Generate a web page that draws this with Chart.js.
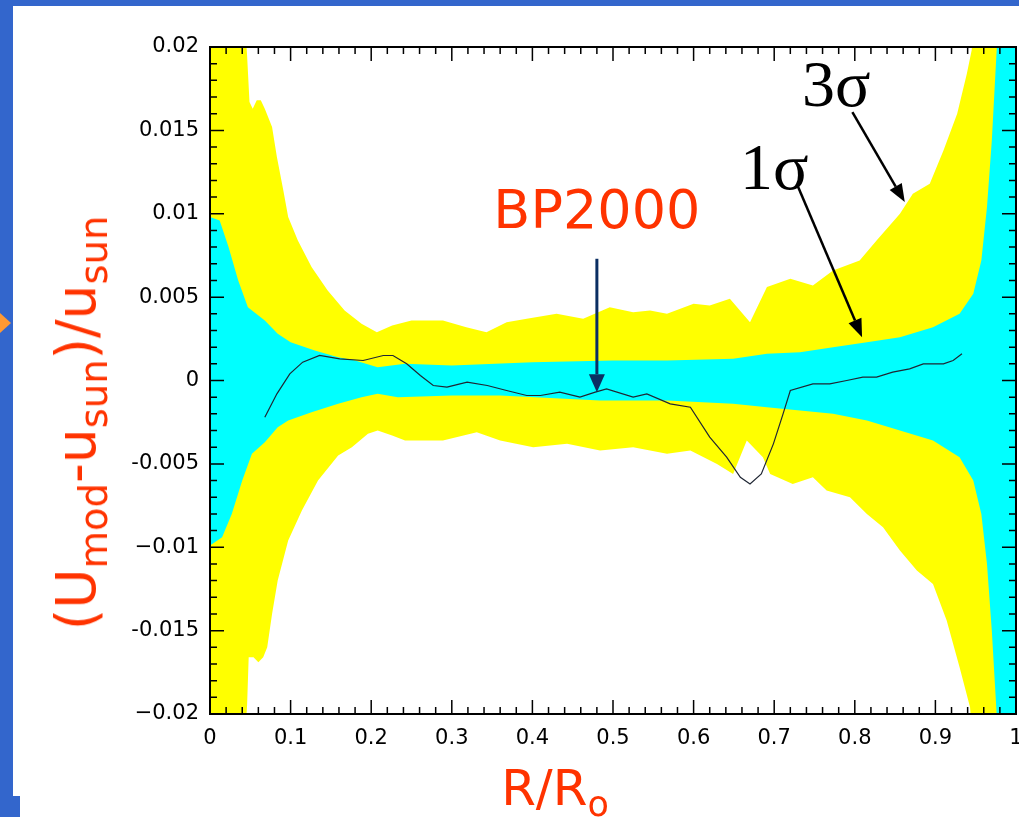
<!DOCTYPE html>
<html>
<head>
<meta charset="utf-8">
<script src="https://cdn.jsdelivr.net/npm/chart.js@4.4.1/dist/chart.umd.min.js"></script>
<style>
  html, body { margin: 0; padding: 0; background: #3366cc; overflow: hidden; }
  #page { position: absolute; left: 13px; top: 6px; width: 1006px; height: 811px; background: #fff; }
  #corner { position: absolute; left: 0; top: 796px; width: 20px; height: 21px; background: #3366cc; }
  #bullet { position: absolute; left: 0; top: 313px; width: 0; height: 0;
            border-top: 10px solid transparent; border-bottom: 10px solid transparent; border-left: 11px solid #ff9933; }
  #chart { position: absolute; left: 0; top: 0; }
  .title { position: absolute; color: #ff3300; font-family: "DejaVu Sans", sans-serif; white-space: nowrap; }
  .title sub { font-size: 70%; vertical-align: -0.3em; line-height: 0; }
  #ytitle { left: 76px; top: 423px; font-size: 55px; transform: translate(-50%, -50%) rotate(-90deg); }
  #xtitle { left: 555px; top: 788px; font-size: 50px; transform: translate(-50%, -50%); }
</style>
</head>
<body>
<div id="page"></div>
<div id="corner"></div>
<div id="bullet"></div>
<canvas id="chart" width="1019" height="817"></canvas>
<div class="title" id="ytitle">(U<sub>mod</sub>-u<sub>sun</sub>)/u<sub>sun</sub></div>
<div class="title" id="xtitle">R/R<sub>o</sub></div>
<script>
const yellow = '#ffff00'
const cyan = '#00ffff'
const red = '#ff3300'

const xTickLabels = ['0', '0.1', '0.2', '0.3', '0.4', '0.5', '0.6', '0.7', '0.8', '0.9', '1']
const yTickLabels = ['\u22120.02', '-0.015', '\u22120.01', '-0.005', '0', '0.005', '0.01', '0.015', '0.02']

// 3 sigma band, upper edge
const r3Up = [0, 0.02, 0.04, 0.046, 0.049, 0.053, 0.058, 0.063, 0.068, 0.077, 0.083, 0.091, 0.097, 0.109, 0.126, 0.146, 0.167, 0.188, 0.207, 0.226, 0.25, 0.289, 0.318, 0.343, 0.368, 0.393, 0.43, 0.463, 0.496, 0.525, 0.546, 0.567, 0.6, 0.62, 0.645, 0.67, 0.691, 0.72, 0.748, 0.773, 0.806, 0.827, 0.856, 0.872, 0.893, 0.91, 0.927, 0.939, 0.945, 0.96, 1]
const sigma3Up = [0.045, 0.035, 0.024, 0.0195, 0.0167, 0.0163, 0.0168, 0.0168, 0.0163, 0.0152, 0.0134, 0.0114, 0.0098, 0.0084, 0.0068, 0.0054, 0.0042, 0.0034, 0.0029, 0.0033, 0.0036, 0.0036, 0.0032, 0.0029, 0.0035, 0.0037, 0.004, 0.0037, 0.0044, 0.0041, 0.0042, 0.004, 0.0046, 0.0045, 0.0049, 0.0035, 0.0056, 0.0061, 0.0057, 0.0066, 0.0072, 0.0084, 0.01, 0.0112, 0.0118, 0.0138, 0.016, 0.0184, 0.0198, 0.03, 0.06]

// 3 sigma band, lower edge
const r3Lo = [0, 0.02, 0.04, 0.046, 0.048, 0.054, 0.06, 0.066, 0.071, 0.077, 0.084, 0.097, 0.114, 0.134, 0.159, 0.176, 0.196, 0.208, 0.226, 0.242, 0.289, 0.331, 0.36, 0.401, 0.443, 0.484, 0.525, 0.567, 0.596, 0.629, 0.649, 0.666, 0.686, 0.695, 0.723, 0.748, 0.765, 0.794, 0.815, 0.835, 0.856, 0.877, 0.897, 0.914, 0.93, 0.943, 0.96, 1]
const sigma3Lo = [-0.045, -0.035, -0.024, -0.0195, -0.0166, -0.0166, -0.0169, -0.0166, -0.016, -0.014, -0.012, -0.0096, -0.0078, -0.006, -0.0045, -0.004, -0.0032, -0.003, -0.0033, -0.0036, -0.0036, -0.0031, -0.0036, -0.004, -0.0038, -0.0042, -0.004, -0.0044, -0.0042, -0.005, -0.0056, -0.0036, -0.0046, -0.0056, -0.0062, -0.0058, -0.0066, -0.007, -0.008, -0.0088, -0.0102, -0.0114, -0.0122, -0.0144, -0.0172, -0.0196, -0.03, -0.06]

// 1 sigma band, upper edge
const r1Up = [0, 0.012, 0.023, 0.035, 0.047, 0.068, 0.084, 0.1, 0.13, 0.159, 0.18, 0.208, 0.242, 0.3, 0.4, 0.5, 0.567, 0.649, 0.691, 0.732, 0.773, 0.815, 0.856, 0.897, 0.93, 0.947, 0.957, 0.964, 0.97, 0.976, 0.985, 1]
const sigma1Up = [0.0098, 0.0096, 0.008, 0.006, 0.0044, 0.0036, 0.0028, 0.0023, 0.0018, 0.0014, 0.0012, 0.0008, 0.001, 0.0009, 0.0011, 0.0012, 0.0012, 0.0013, 0.0016, 0.0017, 0.002, 0.0023, 0.0026, 0.0032, 0.004, 0.0052, 0.0072, 0.0104, 0.0144, 0.0198, 0.03, 0.05]

// 1 sigma band, lower edge
const r1Lo = [0, 0.015, 0.027, 0.04, 0.052, 0.068, 0.084, 0.097, 0.126, 0.159, 0.188, 0.208, 0.233, 0.3, 0.36, 0.484, 0.567, 0.649, 0.691, 0.732, 0.773, 0.815, 0.856, 0.897, 0.93, 0.947, 0.957, 0.964, 0.97, 0.976, 0.985, 1]
const sigma1Lo = [-0.0099, -0.0094, -0.008, -0.006, -0.0044, -0.0037, -0.0028, -0.0024, -0.0019, -0.0014, -0.001, -0.0008, -0.001, -0.0009, -0.0009, -0.0012, -0.0012, -0.0014, -0.0016, -0.0018, -0.002, -0.0024, -0.003, -0.0036, -0.0046, -0.006, -0.008, -0.011, -0.015, -0.02, -0.03, -0.05]

// BP2000 model
const rBp = [0.068, 0.083, 0.099, 0.115, 0.136, 0.161, 0.19, 0.215, 0.227, 0.244, 0.261, 0.277, 0.294, 0.319, 0.344, 0.368, 0.393, 0.41, 0.434, 0.459, 0.478, 0.492, 0.525, 0.542, 0.571, 0.596, 0.62, 0.641, 0.658, 0.67, 0.684, 0.699, 0.711, 0.72, 0.748, 0.769, 0.79, 0.81, 0.827, 0.847, 0.868, 0.885, 0.91, 0.922, 0.933]
const bp2000 = [-0.0022, -0.0008, 0.0004, 0.0011, 0.0015, 0.0013, 0.0012, 0.0015, 0.0015, 0.001, 0.0003, -0.0003, -0.0004, -0.0001, -0.0003, -0.0006, -0.0009, -0.0009, -0.0007, -0.001, -0.0007, -0.0005, -0.001, -0.0008, -0.0014, -0.0016, -0.0034, -0.0046, -0.0058, -0.0062, -0.0056, -0.0038, -0.002, -0.0006, -0.0002, -0.0002, 0, 0.0002, 0.0002, 0.0005, 0.0007, 0.001, 0.001, 0.0012, 0.0016]

const pts = (xs, ys) => xs.map((x, i) => ({ x, y: ys[i] }))

const band = (data, fill, color, order) => ({
    data, fill, order,
    backgroundColor: color,
    borderWidth: 0,
    pointRadius: 0,
    tension: 0
})

// inward ticks on all four sides + frame
const frameTicks = {
    id: 'frameTicks',
    afterDatasetsDraw(chart) {
        const { ctx, chartArea: a, scales: { x, y } } = chart
        ctx.save()
        ctx.strokeStyle = '#000'
        ctx.lineWidth = 1.5
        ctx.beginPath()
        for (let i = 0; i <= 50; i++) {
            const px = x.getPixelForValue(i / 50)
            const len = i % 5 === 0 ? 14 : 7
            ctx.moveTo(px, a.bottom); ctx.lineTo(px, a.bottom - len)
            ctx.moveTo(px, a.top); ctx.lineTo(px, a.top + len)
        }
        for (let i = 0; i <= 40; i++) {
            const py = y.getPixelForValue(-0.02 + i * 0.001)
            const len = i % 5 === 0 ? 14 : 7
            ctx.moveTo(a.left, py); ctx.lineTo(a.left + len, py)
            ctx.moveTo(a.right, py); ctx.lineTo(a.right - len, py)
        }
        ctx.stroke()
        ctx.lineWidth = 2
        ctx.strokeRect(a.left, a.top, a.right - a.left, a.bottom - a.top)
        ctx.restore()
    }
}

const arrow = (ctx, x1, y1, x2, y2, color, width, headLen, headWide) => {
    const ang = Math.atan2(y2 - y1, x2 - x1)
    const bx = x2 - headLen * Math.cos(ang), by = y2 - headLen * Math.sin(ang)
    ctx.strokeStyle = color
    ctx.fillStyle = color
    ctx.lineWidth = width
    ctx.beginPath(); ctx.moveTo(x1, y1); ctx.lineTo(bx, by); ctx.stroke()
    ctx.beginPath()
    ctx.moveTo(x2, y2)
    ctx.lineTo(bx + headWide * Math.sin(ang), by - headWide * Math.cos(ang))
    ctx.lineTo(bx - headWide * Math.sin(ang), by + headWide * Math.cos(ang))
    ctx.closePath(); ctx.fill()
}

const notes = {
    id: 'notes',
    afterDraw(chart) {
        const { ctx, scales: { x, y } } = chart
        const X = v => x.getPixelForValue(v), Y = v => y.getPixelForValue(v)
        ctx.save()
        ctx.textAlign = 'center'
        ctx.textBaseline = 'middle'
        ctx.fillStyle = red
        ctx.font = '54px "DejaVu Sans"'
        ctx.fillText('BP2000', X(0.48), Y(0.01))
        ctx.fillStyle = '#000'
        ctx.font = '66px "Liberation Serif"'
        ctx.fillText('3\u03c3', X(0.777), Y(0.0175))
        ctx.fillText('1\u03c3', X(0.700), Y(0.0125))
        arrow(ctx, X(0.48), Y(0.0073), X(0.48), Y(-0.0007), '#0b2f63', 3, 18, 8)
        arrow(ctx, X(0.797), Y(0.0161), X(0.862), Y(0.0107), '#000', 2.5, 18, 7)
        arrow(ctx, X(0.728), Y(0.0118), X(0.809), Y(0.0026), '#000', 2.5, 18, 7)
        ctx.restore()
    }
}

const tickFont = { family: '"DejaVu Sans", sans-serif', size: 21 }

new Chart(document.getElementById('chart'), {
    type: 'line',
    data: {
        datasets: [
            band(pts(r3Up, sigma3Up), '+1', yellow, 2),
            band(pts(r3Lo, sigma3Lo), false, yellow, 2),
            band(pts(r1Up, sigma1Up), '+1', cyan, 1),
            band(pts(r1Lo, sigma1Lo), false, cyan, 1),
            {
                label: 'BP2000',
                data: pts(rBp, bp2000),
                borderColor: '#1f2633',
                borderWidth: 1.2,
                pointRadius: 0,
                fill: false,
                order: 0
            }
        ]
    },
    options: {
        responsive: false,
        animation: false,
        devicePixelRatio: 1,
        layout: { padding: { top: 47, right: 3, left: 0, bottom: 0 } },
        plugins: { legend: { display: false }, tooltip: { enabled: false } },
        scales: {
            x: {
                type: 'linear', min: 0, max: 1,
                grid: { display: false, drawTicks: false },
                border: { display: false },
                afterFit: s => { s.height = 103; s.paddingLeft = 0; s.paddingRight = 0 },
                ticks: {
                    stepSize: 0.1, padding: 12, color: '#000', font: tickFont,
                    maxRotation: 0, autoSkip: false,
                    callback: v => xTickLabels[Math.round(v * 10)]
                }
            },
            y: {
                type: 'linear', min: -0.02, max: 0.02,
                grid: { display: false, drawTicks: false },
                border: { display: false },
                afterFit: s => { s.width = 210; s.paddingTop = 0; s.paddingBottom = 0 },
                ticks: {
                    stepSize: 0.005, padding: 11, color: '#000', font: tickFont,
                    callback: v => yTickLabels[Math.round(v / 0.005) + 4]
                }
            }
        }
    },
    plugins: [frameTicks, notes]
})
</script>
</body>
</html>
